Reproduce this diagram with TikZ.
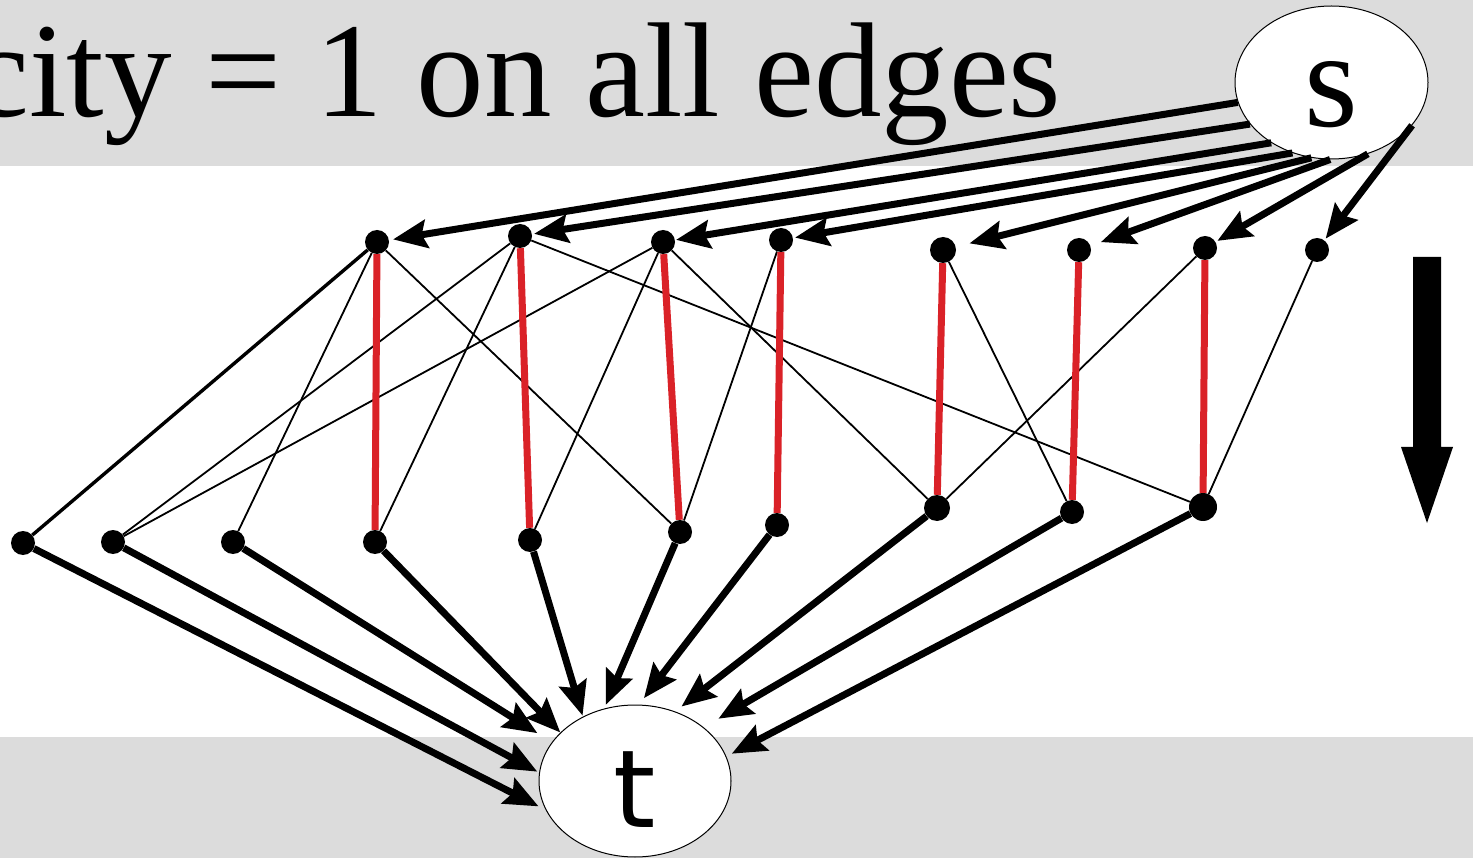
\documentclass[tikz,border=0pt]{standalone}
\usepackage{fontspec}
\setmainfont{Liberation Serif}
\newfontfamily\sinkfont{DejaVu Sans}
\usetikzlibrary{arrows.meta,shapes.geometric}
\definecolor{bandgray}{RGB}{220,220,220}
\definecolor{flowred}{RGB}{218,34,40}
\begin{document}
\begin{tikzpicture}[x=1pt, y=-1pt,
    vtx/.style={circle, fill=black, inner sep=0pt, minimum size=24pt},
    term/.style={ellipse, draw, fill=white, line width=1pt, inner sep=0pt, minimum width=193pt, minimum height=153pt},
    cross/.style={line width=1.8pt},
    flow/.style={draw=flowred, line width=7pt},
    fat/.style={line width=7pt, -{Stealth[length=34pt, width=28pt, inset=5pt]}}]
    \useasboundingbox (0,0) rectangle (1473,858);
    \fill[bandgray] (0,0) rectangle (1473,166);
    \fill[bandgray] (0,737) rectangle (1473,858);
    \node[anchor=base west, inner sep=0pt, font=\fontsize{135}{140}\selectfont] (title) at (-31,117) {city = 1 on all edges};
    % source and sink
    \node[term, text height=89pt, text depth=0pt, font=\fontsize{138}{140}\selectfont] (s) at (1331.5,82.5) {s};
    \node[term, minimum width=192pt, minimum height=152pt, text height=92pt, text depth=0pt, font=\sinkfont\fontsize{108}{110}\selectfont] (t) at (635,781) {t};
    % upper row
    \node[vtx] (u1) at (377,242) {};
    \node[vtx] (u2) at (520,236) {};
    \node[vtx] (u3) at (663,242) {};
    \node[vtx] (u4) at (781,240) {};
    \node[vtx, minimum size=26pt] (u5) at (943,250) {};
    \node[vtx] (u6) at (1079,250) {};
    \node[vtx] (u7) at (1205,248) {};
    \node[vtx] (u8) at (1317,250) {};
    % lower row
    \node[vtx] (b1) at (23,543) {};
    \node[vtx] (b2) at (113,542) {};
    \node[vtx] (b3) at (233,542) {};
    \node[vtx] (b4) at (375,542) {};
    \node[vtx] (b5) at (530,540) {};
    \node[vtx] (b6) at (680,532) {};
    \node[vtx] (b7) at (777,525) {};
    \node[vtx, minimum size=26pt] (b8) at (937,508) {};
    \node[vtx] (b9) at (1072,512) {};
    \node[vtx, minimum size=28pt] (b10) at (1203,507) {};
    % edges between the rows
    \draw[cross, line width=3.4pt] (u1) -- (b1);
    \draw[cross] (u1) -- (b3);
    \draw[cross] (u1) -- (b6);
    \draw[cross] (u2) -- (b2);
    \draw[cross] (u2) -- (b4);
    \draw[cross] (u2) -- (b10);
    \draw[cross] (u3) -- (b2);
    \draw[cross] (u3) -- (b5);
    \draw[cross] (u3) -- (b8);
    \draw[cross] (u4) -- (b6);
    \draw[cross] (u5) -- (b9);
    \draw[cross] (u7) -- (b8);
    \draw[cross] (u8) -- (b10);
    % matching
    \draw[flow] (u1) -- (b4);
    \draw[flow] (u2) -- (b5);
    \draw[flow] (u3) -- (b6);
    \draw[flow] (u4) -- (b7);
    \draw[flow] (u5) -- (b8);
    \draw[flow] (u6) -- (b9);
    \draw[flow] (u7) -- (b10);
    % out of s
    \draw[fat, shorten >=4pt] (s.192) -- (u1);
    \draw[fat, shorten >=2pt] (s.207) -- (u2);
    \draw[fat, shorten >=1pt] (s.225) -- (u3);
    \draw[fat, shorten >=2pt] (s.241) -- (u4);
    \draw[fat, shorten >=14pt] (s.255) -- (u5);
    \draw[fat, shorten >=11pt] (s.269) -- (u6);
    \draw[fat, shorten >=2pt] (s.297) -- (u7);
    \draw[fat, shorten >=2pt] (s.332) -- (u8);
    % into t
    \draw[fat, shorten >=8pt] (b1) -- (t.198);
    \draw[fat, shorten >=2pt] (b2) -- (t.175);
    \draw[fat, shorten >=17pt] (b3) -- (t.155);
    \draw[fat] (b4) -- (t.147);
    \draw[fat, shorten >=1pt] (b5) -- (t.129);
    \draw[fat, shorten >=4pt] (b6) -- (t.113);
    \draw[fat, shorten >=8pt] (b7) -- (t.87);
    \draw[fat, shorten >=8pt] (b8) -- (t.60);
    \draw[fat, shorten >=17pt] (b9) -- (t.38);
    \draw[fat, shorten >=6pt] (b10) -- (t.15);
    % direction marker
    \fill (1413,257) -- (1441,257) -- (1441,447) -- (1453,447) -- (1427,523) -- (1401,447) -- (1413,447) -- cycle;
\end{tikzpicture}
\end{document}
